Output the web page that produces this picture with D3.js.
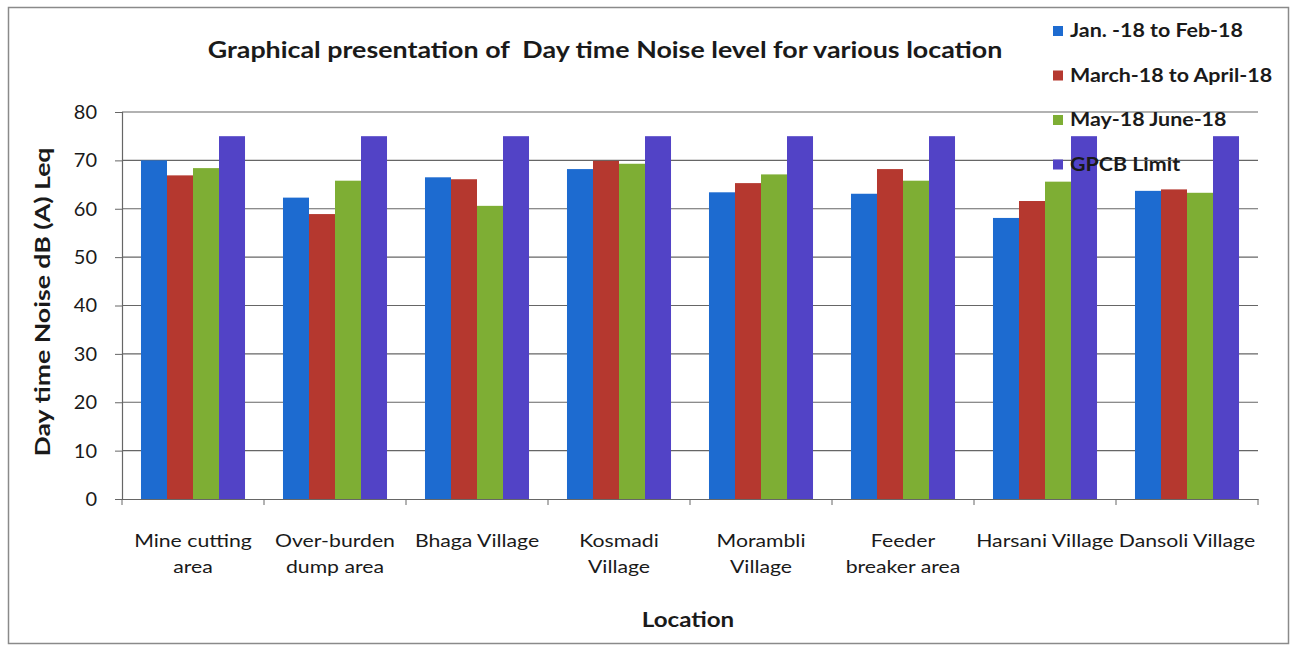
<!DOCTYPE html>
<html>
<head>
<meta charset="utf-8">
<script src="https://cdn.jsdelivr.net/npm/d3@7"></script>
<style>
  body { margin: 0; background: #fff; }
  text { font-family: Lato, "Open Sans", sans-serif; fill: #1a1a1a; }
</style>
</head>
<body>
<svg id="chart" width="1294" height="652"></svg>
<script>
// values
let locations = ["Mine cutting area", "Over-burden dump area", "Bhaga Village", "Kosmadi Village",
  "Morambli Village", "Feeder breaker area", "Harsani Village", "Dansoli Village"];
let locationLines = [["Mine cutting", "area"], ["Over-burden", "dump area"], ["Bhaga Village"], ["Kosmadi", "Village"],
  ["Morambli", "Village"], ["Feeder", "breaker area"], ["Harsani Village"], ["Dansoli Village"]];
let seriesNames = ["Jan. -18 to Feb-18", "March-18 to April-18", "May-18 June-18", "GPCB Limit"];
let janFeb   = [70.0, 62.3, 66.5, 68.2, 63.4, 63.1, 58.1, 63.7];
let marApr   = [66.9, 58.9, 66.1, 69.9, 65.3, 68.2, 61.6, 64.0];
let mayJun   = [68.4, 65.8, 60.6, 69.3, 67.1, 65.8, 65.6, 63.3];
let gpcb     = [75, 75, 75, 75, 75, 75, 75, 75];
let yTicks   = [0, 10, 20, 30, 40, 50, 60, 70, 80];

let colors = ["#1d6bd0", "#b5382f", "#7eae34", "#5243c6"];
let series = [janFeb, marApr, mayJun, gpcb];

let svg = d3.select("#chart");

// the source picture is stretched sideways, so text gets a horizontal scale
let stretch = (x, y, sx) => "translate(" + x + "," + y + ") scale(" + sx + ",1)";

// outer frame
svg.append("rect")
  .attr("x", 8.5).attr("y", 7.5)
  .attr("width", 1280).attr("height", 636)
  .attr("fill", "#fff")
  .attr("stroke", "#8a8a8a")
  .attr("stroke-width", 1.5);

let plotLeft = 122, plotRight = 1258, plotTop = 112, plotBottom = 499;

let x0 = d3.scaleBand().domain(locations).range([plotLeft, plotRight]);
let x1 = d3.scaleBand().domain(d3.range(4)).range([0, x0.bandwidth()]).paddingOuter(0.73);
let y = d3.scaleLinear().domain([0, 80]).range([plotBottom, plotTop]);

// gridlines
svg.append("g")
  .selectAll("line")
  .data(yTicks.slice(1))
  .enter()
  .append("line")
  .attr("x1", plotLeft).attr("x2", plotRight)
  .attr("y1", d => y(d)).attr("y2", d => y(d))
  .attr("stroke", "#666")
  .attr("stroke-width", 1.2);

// bars
let group = svg.append("g")
  .selectAll("g")
  .data(locations)
  .enter()
  .append("g")
  .attr("transform", d => "translate(" + x0(d) + ",0)");

group.selectAll("rect")
  .data((d, i) => series.map((s, k) => ({k: k, v: s[i]})))
  .enter()
  .append("rect")
  .attr("x", d => x1(d.k))
  .attr("width", x1.bandwidth())
  .attr("y", d => y(d.v))
  .attr("height", d => y(0) - y(d.v))
  .attr("fill", d => colors[d.k]);

// y axis
let yAxis = svg.append("g")
  .attr("transform", "translate(" + plotLeft + ",0)")
  .call(d3.axisLeft(y).tickValues(yTicks).tickSize(7).tickPadding(18));
yAxis.select(".domain").attr("stroke", "#666").attr("stroke-width", 1.2);
yAxis.selectAll(".tick line").attr("stroke", "#666");
yAxis.selectAll(".tick text")
  .style("font-family", "Lato, sans-serif")
  .style("font-size", "20px")
  .attr("fill", "#222");

// x axis
let xAxis = svg.append("g")
  .attr("transform", "translate(0," + plotBottom + ")")
  .call(d3.axisBottom(x0).tickSize(0).tickFormat(""));
xAxis.select(".domain").attr("stroke", "#666").attr("stroke-width", 1.2);

svg.append("g")
  .selectAll("line")
  .data(d3.range(locations.length + 1))
  .enter()
  .append("line")
  .attr("x1", i => plotLeft + i * x0.step()).attr("x2", i => plotLeft + i * x0.step())
  .attr("y1", plotBottom).attr("y2", plotBottom + 6)
  .attr("stroke", "#666");

svg.append("g")
  .selectAll("text")
  .data(locations)
  .enter()
  .append("text")
  .attr("transform", d => stretch(x0(d) + x0.bandwidth() / 2, 547, 1.18))
  .attr("text-anchor", "middle")
  .style("font-size", "18px")
  .each(function(d, i) {
    d3.select(this).selectAll("tspan")
      .data(locationLines[i])
      .enter()
      .append("tspan")
      .attr("x", 0)
      .attr("dy", (t, j) => j === 0 ? 0 : 26)
      .text(t => t);
  });

// titles
svg.append("text")
  .attr("transform", stretch(605, 58, 1.22))
  .attr("text-anchor", "middle")
  .attr("xml:space", "preserve")
  .style("font-size", "22px").style("font-weight", "bold")
  .text("Graphical presentation of  Day time Noise level for various location");

svg.append("text")
  .attr("transform", stretch(688, 627, 1.15))
  .attr("text-anchor", "middle")
  .style("font-size", "21px").style("font-weight", "bold")
  .text("Location");

svg.append("text")
  .attr("transform", "translate(50,302) rotate(-90) scale(1.27,1)")
  .attr("text-anchor", "middle")
  .style("font-size", "21px").style("font-weight", "bold")
  .text("Day time Noise dB (A) Leq");

// legend
let legend = svg.append("g")
  .selectAll("g")
  .data(seriesNames)
  .enter()
  .append("g")
  .attr("transform", (d, i) => "translate(1053," + (37 + i * 44.5) + ")");

legend.append("rect")
  .attr("x", 0).attr("y", -11)
  .attr("width", 10).attr("height", 10)
  .attr("fill", (d, i) => colors[i]);

legend.append("text")
  .attr("transform", stretch(17, 0, 1.19))
  .style("font-size", "18px").style("font-weight", "bold")
  .text(d => d);
</script>
</body>
</html>
